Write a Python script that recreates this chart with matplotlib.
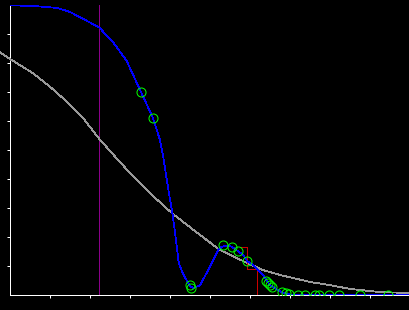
import numpy as np
import matplotlib
matplotlib.use("Agg")
import matplotlib.pyplot as plt

# blue curve (x, y)
blue_x = [0.0, 0.025, 0.075, 0.1175, 0.15, 0.1833, 0.2233, 0.2583, 0.2918, 0.3275,
          0.3575, 0.375, 0.383, 0.396, 0.406, 0.415, 0.4208, 0.425, 0.433,
          0.45, 0.458, 0.475, 0.4917, 0.5083, 0.5208, 0.5292, 0.542, 0.554, 0.569,
          0.583, 0.593, 0.608, 0.629, 0.65, 0.679, 0.7, 0.725, 1.0]
blue_y = [1.0, 0.998, 0.995, 0.99, 0.976, 0.952, 0.922, 0.871, 0.807, 0.700,
          0.610, 0.534, 0.477, 0.362, 0.282, 0.190, 0.121, 0.098, 0.072,
          0.031, 0.023, 0.034, 0.076, 0.121, 0.155, 0.166, 0.170, 0.167, 0.152,
          0.138, 0.117, 0.103, 0.075, 0.034, 0.009, 0.002, 0.0, 0.0]

# gray curve
gray_x = [-0.025, 0.0, 0.0583, 0.1, 0.1417, 0.1833, 0.2233, 0.2667, 0.3083, 0.35,
          0.405, 0.475, 0.525, 0.5875, 0.6325, 0.675, 0.75, 0.8, 0.85, 0.925, 1.0]
gray_y = [0.837, 0.814, 0.764, 0.718, 0.667, 0.609, 0.538, 0.471, 0.408, 0.351,
          0.282, 0.207, 0.155, 0.114, 0.086, 0.069, 0.045, 0.034, 0.021, 0.010, 0.007]

# green markers
pts_x = [0.3275, 0.3575, 0.449, 0.4525, 0.5325, 0.554, 0.569, 0.593, 0.64, 0.645,
         0.65, 0.655, 0.679, 0.69, 0.698, 0.721, 0.7375, 0.7625, 0.773, 0.798,
         0.823, 0.875, 0.946]
pts_y = [0.700, 0.610, 0.034, 0.024, 0.172, 0.167, 0.152, 0.117, 0.048, 0.041,
         0.034, 0.028, 0.009, 0.007, 0.002, 0.0, 0.0, 0.0, 0.0, 0.0,
         0.0, 0.0, 0.0]

# red step
step_x = [0.5775, 0.593, 0.617, 1.0]
step_y = [0.164, 0.089, 0.0, 0.0]

vline_x = 0.2225

px = 0.72  # one pixel in points at 100 dpi

fig = plt.figure(figsize=(4.1, 3.1), dpi=100, facecolor='black')
ax = fig.add_axes([10/410, 15/310, 400/410, 290/310])
ax.set_facecolor('black')

ax.axvline(vline_x, color='#8b008b', lw=px, zorder=3, antialiased=False)
ax.plot(gray_x, gray_y, color='#999999', lw=0.6, zorder=4, clip_on=False, antialiased=False)
ax.step(step_x, step_y, where='post', color='#cc0000', lw=px, zorder=5, antialiased=False)
ax.plot(blue_x, blue_y, color='#0000ff', lw=0.55, zorder=6, antialiased=False)
ax.plot(pts_x, pts_y, 'o', mfc='none', mec='#00ff00', ms=6.5, mew=px, zorder=7)

ax.set_xlim(0, 1)
ax.set_ylim(0, 1)
ax.set_xticks(np.arange(1, 10) / 10)
ax.set_yticks(np.arange(1, 10) / 10)
ax.set_xticklabels([])
ax.set_yticklabels([])
ax.tick_params(colors='white', length=2.5, width=px, direction='out')
for s in ['top', 'right']:
    ax.spines[s].set_visible(False)
for s in ['left', 'bottom']:
    ax.spines[s].set_color('white')
    ax.spines[s].set_linewidth(px)

fig.savefig('out.png', dpi=100, facecolor='black')
